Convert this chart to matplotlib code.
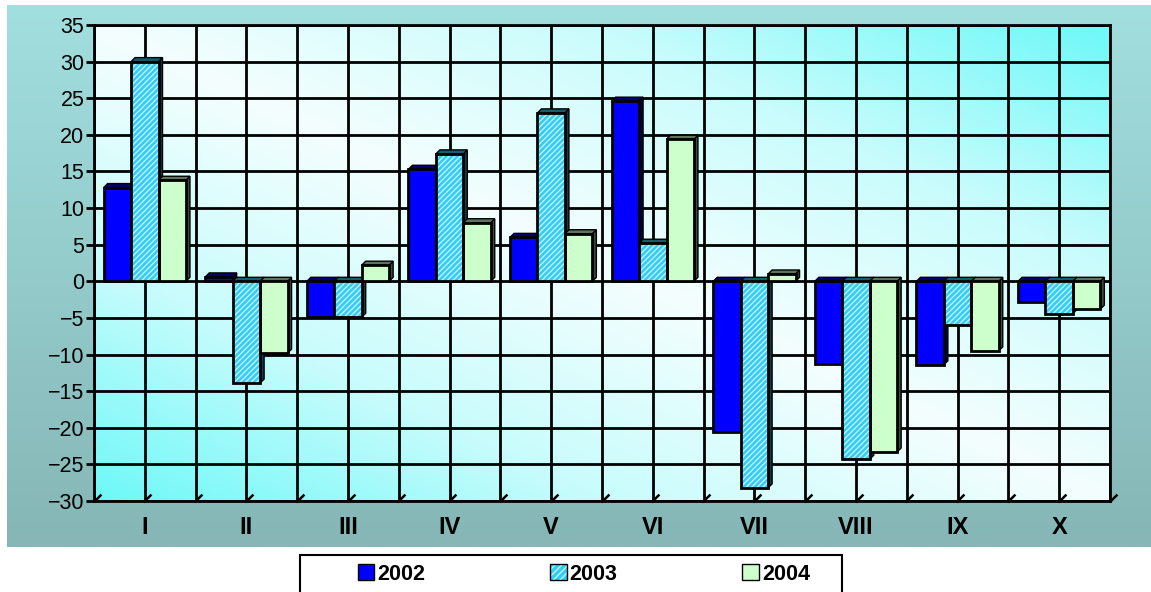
import numpy as np
import matplotlib
matplotlib.use('Agg')
import matplotlib.pyplot as plt
from matplotlib.colors import LinearSegmentedColormap, to_rgb
from matplotlib.patches import Polygon, Rectangle, Patch
from matplotlib.legend_handler import HandlerTuple

plt.rcParams['font.family'] = ['Liberation Sans', 'DejaVu Sans']

months = ['I', 'II', 'III', 'IV', 'V', 'VI', 'VII', 'VIII', 'IX', 'X']
years = ['2002', '2003', '2004']
v2002 = [12.8, 0.6, -4.9, 15.3, 6.0, 24.6, -20.6, -11.3, -11.4, -2.8]
v2003 = [30.0, -13.9, -4.9, 17.4, 23.0, 5.2, -28.2, -24.3, -6.0, -4.4]
v2004 = [13.8, -9.8, 2.2, 8.0, 6.5, 19.4, 1.0, -23.3, -9.5, -3.8]
series = [v2002, v2003, v2004]
colors = ['#0000ff', '#33ccf5', '#ccffcc']

W, H = 1151, 592
fig = plt.figure(figsize=(W / 100, H / 100), dpi=100)

# teal backdrop
bg = fig.add_axes([7 / W, 1 - 547 / H, 1 - 7 / W, 542 / H], zorder=-10)
grad = np.linspace(0, 1, 256).reshape(-1, 1)
bg.imshow(grad, aspect='auto', extent=[0, 1, 0, 1],
          cmap=LinearSegmentedColormap.from_list('t', ['#a2dfdf', '#86b6b6']))
bg.set_axis_off()

ax = fig.add_axes([94 / W, 1 - 501 / H, (1110 - 94) / W, (501 - 25) / H])
ax.set_facecolor('none')

x = np.arange(len(months))
ax.set_xlim(-0.5, len(months) - 0.5)
ax.set_ylim(-30, 35)

# plot area gradient: pale along main diagonal, cyan at other corners
u, v = np.meshgrid(np.linspace(0, 1, 200), np.linspace(0, 1, 200))
t = np.abs(u - v)
ax.imshow(t, aspect='auto', extent=[-0.5, len(months) - 0.5, -30, 35], origin='upper',
          cmap=LinearSegmentedColormap.from_list('c', ['#f4fefe', '#c8fcfc', '#6ef8f8']),
          zorder=0)

# grid
for gx in np.arange(-0.5, len(months), 0.5):
    ax.axvline(gx, color='black', lw=2, zorder=1)
for gy in range(-30, 36, 5):
    ax.axhline(gy, color='black', lw=2, zorder=1)

width = 0.27
dx = 4 / 101.6
dy = 4 / 7.323


def darker(c, f):
    r, g, b = to_rgb(c)
    return (r * f, g * f, b * f)


for i, (vals, col) in enumerate(zip(series, colors)):
    xs = x + (i - 1) * width
    for xc, val in zip(xs, vals):
        x0, x1 = xc - width / 2, xc + width / 2
        hi, lo = max(val, 0), min(val, 0)
        side = Polygon([(x1, lo), (x1 + dx, lo + dy), (x1 + dx, hi + dy), (x1, hi)],
                       closed=True, fc=darker(col, 0.3), ec='black', lw=1, zorder=2)
        top = Polygon([(x0, hi), (x0 + dx, hi + dy), (x1 + dx, hi + dy), (x1, hi)],
                      closed=True, fc=darker(col, 0.45), ec='black', lw=1, zorder=2)
        ax.add_patch(side)
        ax.add_patch(top)
    if i == 1:
        ax.bar(xs, vals, width, color=col, edgecolor='#bff2ff', hatch='//////', lw=0, zorder=3)
        ax.bar(xs, vals, width, fill=False, edgecolor='black', lw=2, zorder=4)
    else:
        ax.bar(xs, vals, width, color=col, edgecolor='black', lw=2, zorder=3)

# small slanted tick marks on the x axis
gxs = np.arange(-0.5, len(months), 0.5)
ax.plot(gxs + 0.025, [-29.6] * len(gxs), ls='none', marker=(2, 0, -45), ms=8,
        mew=1.8, color='black', zorder=5, clip_on=False)

for s in ax.spines.values():
    s.set_linewidth(2)
    s.set_color('black')

ax.set_xticks(x)
ax.set_xticklabels(months, fontsize=17, fontweight='bold')
ax.tick_params(axis='x', length=0, pad=11)
ax.set_yticks(range(-30, 36, 5))
ax.tick_params(axis='y', direction='out', length=6, width=2, labelsize=15.5, pad=1)

# legend box (runs off the bottom edge)
fig.patches.append(Rectangle((300 / W, -0.1), (842 - 300) / W, (592 - 555) / H + 0.1,
                             transform=fig.transFigure, fc='white', ec='black', lw=1.5,
                             zorder=0))
h0 = Patch(fc=colors[0], ec='black', lw=1)
h1 = (Patch(fc=colors[1], ec='#bff2ff', hatch='/////', lw=0), Patch(fill=False, ec='black', lw=1))
h2 = Patch(fc=colors[2], ec='black', lw=1)
leg = fig.legend([h0, h1, h2], years, loc='center', bbox_to_anchor=(584 / W, 1 - 574 / H),
                 ncol=3, frameon=False, columnspacing=5.8, handlelength=0.75,
                 handleheight=0.75, handletextpad=0.15,
                 handler_map={tuple: HandlerTuple(ndivide=1, pad=0)},
                 prop={'size': 15.5, 'weight': 'bold'})
leg.set_zorder(5)

fig.savefig('out.png', dpi=100)
